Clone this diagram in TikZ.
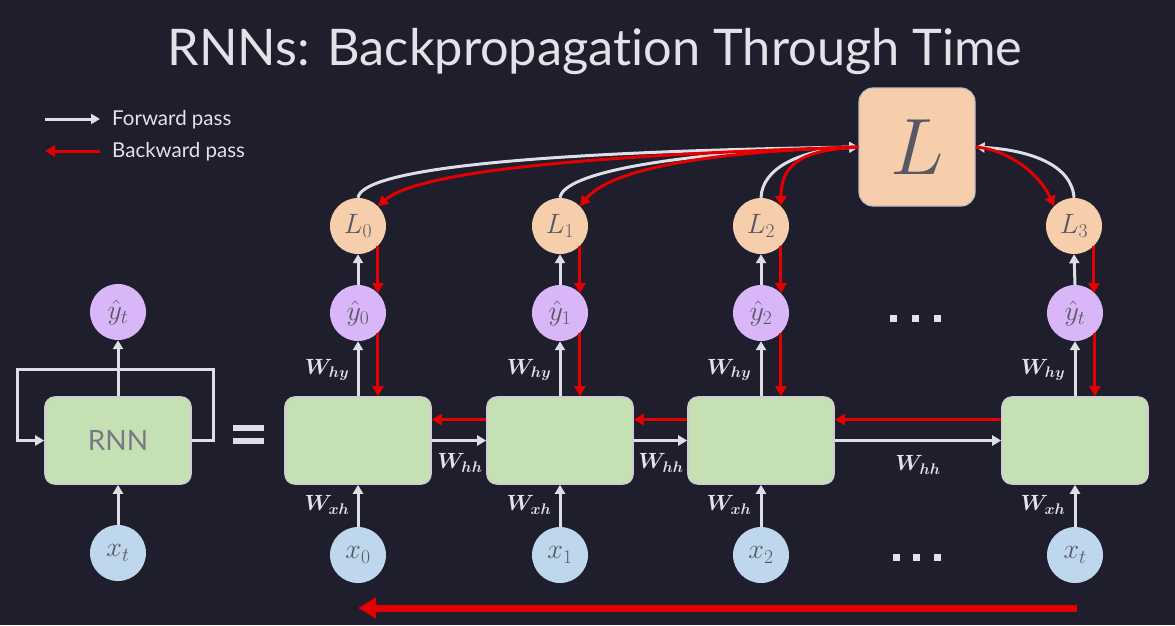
\RequirePackage{fix-cm}
\documentclass[tikz,border=0pt]{standalone}
\usepackage{amsmath}
\usepackage[no-math]{fontspec}
\newfontfamily\lato[Ligatures=NoCommon]{Lato}
\usetikzlibrary{arrows.meta}
\definecolor{bg}{RGB}{30,30,44}
\definecolor{txt}{RGB}{226,226,232}
\definecolor{lbl}{RGB}{88,88,100}
\definecolor{fwc}{RGB}{222,222,230}
\definecolor{bwc}{RGB}{228,0,0}
\definecolor{cellg}{RGB}{197,225,180}
\definecolor{cellb}{RGB}{205,205,210}
\definecolor{peach}{RGB}{247,206,172}
\definecolor{lav}{RGB}{216,182,248}
\definecolor{skyb}{RGB}{190,215,236}
\definecolor{lboxb}{RGB}{190,190,195}
\begin{document}
\begin{tikzpicture}[x=1pt,y=-1pt,
  fw/.style={draw=fwc, line width=3pt, -{Triangle[length=9pt,width=10pt]}},
  bw/.style={draw=bwc, line width=3pt, -{Triangle[length=10pt,width=11pt]}},
  cell/.style={draw=cellb, line width=1.6pt, fill=cellg, rounded corners=10pt, minimum width=146pt, minimum height=87pt},
  circ/.style={circle, minimum size=56pt, inner sep=0pt, text=lbl, font=\fontsize{28}{32}\selectfont},
  lc/.style={circ, fill=peach},
  yc/.style={circ, fill=lav},
  xc/.style={circ, fill=skyb},
  wl/.style={text=txt, font=\fontsize{22}{26}\selectfont\boldmath, inner sep=0pt},
  leg/.style={text=txt, font=\lato\fontsize{20.5}{24}\selectfont, anchor=west, inner sep=0pt}
]
\useasboundingbox (0,0) rectangle (1175,625);
\fill[bg] (0,0) rectangle (1175,625);

% title
\node[text=txt, font=\lato\fontsize{50.5}{58}\selectfont] (title) at (595,52) {RNNs: Backpropagation Through Time};

% legend
\coordinate (f1) at (45,119);
\coordinate (f2) at (100,119);
\coordinate (b1) at (100,151);
\coordinate (b2) at (45,151);
\draw[fw] (f1) -- (f2);
\draw[bw] (b1) -- (b2);
\node[leg] (ftxt) at (112,120) {Forward pass};
\node[leg] (btxt) at (112,152) {Backward pass};

% folded RNN
\node[cell, text=lbl!80, font=\lato\fontsize{28}{32}\selectfont] (rnn) at (118,440.5) {RNN};
\node[yc] (yt) at (118,312) {$\hat{y}_t$};
\node[xc] (xt) at (118,553) {$x_t$};
\draw[fw] (rnn.north) -- (yt.south);
\draw[fw] (xt.north) -- (rnn.south);
\coordinate (lp1) at (213,440.5);
\coordinate (lp2) at (213,369);
\coordinate (lp3) at (17,369);
\coordinate (lp4) at (17,440.5);
\draw[fw] (rnn.east) -- (lp1) -- (lp2) -- (lp3) -- (lp4) -- (rnn.west);

% equals sign
\draw[fwc, line width=6pt] (233,428) -- (264,428) (233,441) -- (264,441);

% unrolled cells
\node[cell] (c0) at (358,440.5) {};
\node[cell] (c1) at (560,440.5) {};
\node[cell] (c2) at (761,440.5) {};
\node[cell] (c3) at (1075,440.5) {};

\node[yc] (y0) at (358,313) {$\hat{y}_0$};
\node[yc] (y1) at (560,313) {$\hat{y}_1$};
\node[yc] (y2) at (761,313) {$\hat{y}_2$};
\node[yc] (y3) at (1075,313) {$\hat{y}_t$};

\node[lc] (l0) at (358,226) {$L_0$};
\node[lc] (l1) at (560,226) {$L_1$};
\node[lc] (l2) at (761,226) {$L_2$};
\node[lc] (l3) at (1074,226) {$L_3$};

\node[xc] (x0) at (358,555) {$x_0$};
\node[xc] (x1) at (560,555) {$x_1$};
\node[xc] (x2) at (761,555) {$x_2$};
\node[xc] (x3) at (1075,555) {$x_t$};

\node[draw=lboxb, line width=1.2pt, fill=peach, rounded corners=14pt, minimum width=116pt, minimum height=118pt, text=lbl, font=\fontsize{80}{86}\selectfont] (L) at (917,147) {$L$};

% dots
\foreach \x in {893,915,937} \fill[txt] (\x-3.5,315) rectangle (\x+3.5,322);
\foreach \x in {896,916,937} \fill[txt] (\x-3.5,554) rectangle (\x+3.5,561);

% forward verticals
\foreach \i in {0,1,2,3} {
  \draw[fw] (x\i.north) -- (c\i.south);
  \draw[fw] (c\i.north) -- (y\i.south);
  \draw[fw] (y\i.north) -- (l\i.south);
  \draw[bw] (l\i.-45) -- (l\i.-45 |- y\i.45);
  \draw[bw] (y\i.-45) -- (y\i.-45 |- c\i.north);
}

% horizontal
\draw[fw] (c0.east) -- (c1.west);
\draw[fw] (c1.east) -- (c2.west);
\draw[fw] (c2.east) -- (c3.west);
\draw[bw] ([yshift=21pt]c1.west) -- ([yshift=21pt]c0.east);
\draw[bw] ([yshift=21pt]c2.west) -- ([yshift=21pt]c1.east);
\draw[bw] ([yshift=21pt]c3.west) -- ([yshift=21pt]c2.east);

% weight labels
\foreach \i/\x in {0/327,1/529,2/729,3/1043} {
  \node[wl] (why\i) at (\x,370) {$W_{hy}$};
  \node[wl] (wxh\i) at (\x,505) {$W_{xh}$};
}
\node[wl] (whh0) at (460,463) {$W_{hh}$};
\node[wl] (whh1) at (661,463) {$W_{hh}$};
\node[wl] (whh2) at (918,465) {$W_{hh}$};

% loss connectors
\draw[fw] (l0.north) .. controls (362,170) and (520,152) .. (L.west);
\draw[fw] (l1.north) .. controls (563,172) and (680,152) .. (L.west);
\draw[fw] (l2.north) .. controls (762,168) and (800,150) .. (L.west);
\draw[fw] (l3.north) .. controls (1072,165) and (1030,150) .. (L.east);
\draw[bw] (L.west) .. controls (600,155) and (420,170) .. (l0.45);
\draw[bw] (L.west) .. controls (700,152) and (610,170) .. (l1.45);
\draw[bw] (L.west) .. controls (800,150) and (781,165) .. (l2.45);
\draw[bw] (L.east) .. controls (1010,150) and (1040,175) .. (l3.135);

% time arrow
\coordinate (ta) at (1077,608);
\coordinate (tb) at (358,608);
\draw[draw=bwc, line width=7pt, -{Triangle[length=18pt,width=20pt]}] (ta) -- (tb);
\end{tikzpicture}
\end{document}
